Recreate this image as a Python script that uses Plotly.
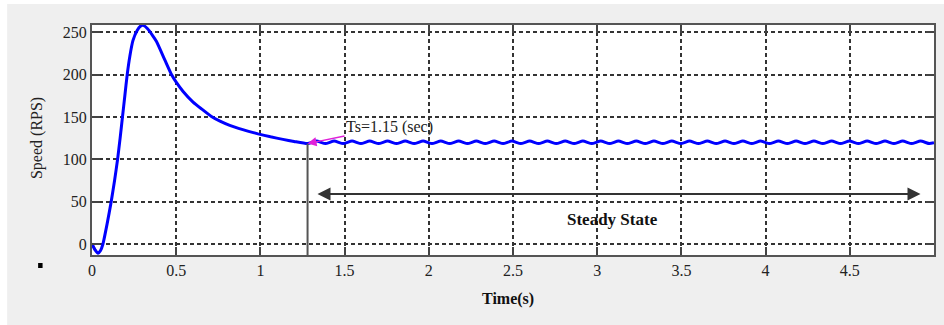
import plotly.graph_objects as go

# ---- data ----
t_rise = [0.0, 0.018, 0.036, 0.05, 0.065, 0.09, 0.114, 0.134, 0.152, 0.167, 0.181,
          0.195, 0.209, 0.225, 0.243, 0.268, 0.29, 0.305, 0.33, 0.36, 0.383, 0.433,
          0.472, 0.50, 0.541, 0.60, 0.65, 0.709, 0.76, 0.818, 0.87, 0.93, 0.986,
          1.06, 1.134, 1.20]
v_rise = [0.0, -7.0, -11.0, -8.0, 0.0, 24.0, 50.0, 75.0, 100.0, 125.0, 150.0,
          175.0, 200.0, 222.0, 240.0, 252.0, 257.5, 258.0, 254.0, 246.0, 239.0, 217.0,
          200.0, 191.0, 180.0, 167.5, 159.5, 150.5, 145.0, 140.0, 136.5, 133.0, 130.0,
          126.5, 123.5, 121.0]

t_ss = [1.280, 1.333, 1.386, 1.438, 1.491, 1.544, 1.597, 1.649, 1.702, 1.755,
        1.808, 1.860, 1.913, 1.966, 2.019, 2.071, 2.124, 2.177, 2.230, 2.282,
        2.335, 2.388, 2.441, 2.493, 2.546, 2.599, 2.652, 2.704, 2.757, 2.810,
        2.863, 2.915, 2.968, 3.021, 3.074, 3.126, 3.179, 3.232, 3.285, 3.337,
        3.390, 3.443, 3.496, 3.548, 3.601, 3.654, 3.707, 3.759, 3.812, 3.865,
        3.918, 3.970, 4.023, 4.076, 4.129, 4.181, 4.234, 4.287, 4.340, 4.392,
        4.445, 4.498, 4.551, 4.603, 4.656, 4.709, 4.762, 4.814, 4.867, 4.920,
        4.973, 5.000]
v_ss = [118.5, 121.5, 118.5, 121.5, 118.5, 121.5, 118.5, 121.5, 118.5, 121.5,
        118.5, 121.5, 118.5, 121.5, 118.5, 121.5, 118.5, 121.5, 118.5, 121.5,
        118.5, 121.5, 118.5, 121.5, 118.5, 121.5, 118.5, 121.5, 118.5, 121.5,
        118.5, 121.5, 118.5, 121.5, 118.5, 121.5, 118.5, 121.5, 118.5, 121.5,
        118.5, 121.5, 118.5, 121.5, 118.5, 121.5, 118.5, 121.5, 118.5, 121.5,
        118.5, 121.5, 118.5, 121.5, 118.5, 121.5, 118.5, 121.5, 118.5, 121.5,
        118.5, 121.5, 118.5, 121.5, 118.5, 121.5, 118.5, 121.5, 118.5, 121.5,
        118.5, 119.5]

t_ref = [0.0, 0.018, 0.034]
v_ref = [1.0, -6.0, -11.0]

ts_time = 1.28
ts_value = 118.5
ts_label = "Ts=1.15 (sec)"
steady_start = 1.33
steady_end = 4.92
steady_level = 59
steady_label = "Steady State"
steady_label_pos = (3.09, 29.5)

x_ticks = [0, 0.5, 1, 1.5, 2, 2.5, 3, 3.5, 4, 4.5]
x_ticklabels = ["0", "0.5", "1", "1.5", "2", "2.5", "3", "3.5", "4", "4.5"]
y_ticks = [0, 50, 100, 150, 200, 250]
y_ticklabels = ["0", "50", "100", "150", "200", "250"]
x_range = [0, 5]
y_range = [-13, 258.5]

FONT = "Liberation Serif, Times New Roman, serif"

fig = go.Figure()
fig.add_trace(go.Scatter(x=t_ref, y=v_ref, mode="lines",
                         line=dict(color="#d0206a", width=1.5), hoverinfo="skip"))
fig.add_trace(go.Scatter(x=t_rise + t_ss, y=v_rise + v_ss, mode="lines",
                         line=dict(color="#0000ff", width=3, shape="spline", smoothing=0.5)))

# Ts vertical line
fig.add_shape(type="line", x0=ts_time, x1=ts_time, y0=ts_value, y1=y_range[0],
              xref="x", yref="y", line=dict(color="#555555", width=2))

# paper decorations: white edges and small dot
fig.add_shape(type="rect", xref="paper", yref="paper", x0=-0.2, x1=1.2,
              y0=1.0913, y1=1.2, fillcolor="white", line=dict(width=0), layer="below")
fig.add_shape(type="rect", xref="paper", yref="paper", x0=-0.2, x1=-0.1008,
              y0=-0.5, y1=1.2, fillcolor="white", line=dict(width=0), layer="below")
fig.add_shape(type="rect", xref="paper", yref="paper", x0=-0.0640, x1=-0.0587,
              y0=-0.0565, y1=-0.0348, fillcolor="black", line=dict(width=0))

annotations = [
    dict(x=steady_end, y=steady_level, ax=steady_start, ay=steady_level,
         xref="x", yref="y", axref="x", ayref="y", text="", showarrow=True,
         arrowhead=2, startarrowhead=2, arrowside="end+start", arrowsize=1.3,
         startarrowsize=1.3, arrowwidth=2, arrowcolor="#333333"),
    dict(x=steady_label_pos[0], y=steady_label_pos[1], xref="x", yref="y",
         text="<b>" + steady_label + "</b>", showarrow=False,
         font=dict(family=FONT, size=17, color="#111111")),
    dict(x=ts_time, y=ts_value, xref="x", yref="y", text=ts_label, showarrow=True,
         ax=82, ay=-17, arrowhead=2, arrowsize=1.2, arrowwidth=1.5,
         arrowcolor="#e020d8", font=dict(family=FONT, size=16, color="#222222")),
    dict(x=-0.0652, y=0.509, xref="paper", yref="paper", text="Speed (RPS)",
         xanchor="center", yanchor="middle",
         textangle=-90, showarrow=False, font=dict(family=FONT, size=16, color="#222222")),
    dict(x=0.4935, y=-0.191, xref="paper", yref="paper", text="<b>Time(s)</b>",
         xanchor="center", yanchor="middle",
         showarrow=False, font=dict(family=FONT, size=16, color="#111111")),
]

axis_common = dict(showline=True, linecolor="#555555", linewidth=2, mirror="ticks",
                   ticks="inside", ticklen=8, tickwidth=2, tickcolor="#444444",
                   showgrid=True, gridcolor="#333333", gridwidth=1.8, griddash="4px,3px",
                   zeroline=False, tickfont=dict(family=FONT, size=16, color="#222222"))

fig.update_xaxes(range=x_range, tickvals=x_ticks, ticktext=x_ticklabels, **axis_common)
fig.update_yaxes(range=y_range, tickvals=y_ticks, ticktext=y_ticklabels, **axis_common)

fig.update_layout(width=944, height=325, margin=dict(l=92, r=8, t=25, b=70),
                  paper_bgcolor="#efefef", plot_bgcolor="white", showlegend=False,
                  annotations=annotations)

fig.write_html("out.html")
